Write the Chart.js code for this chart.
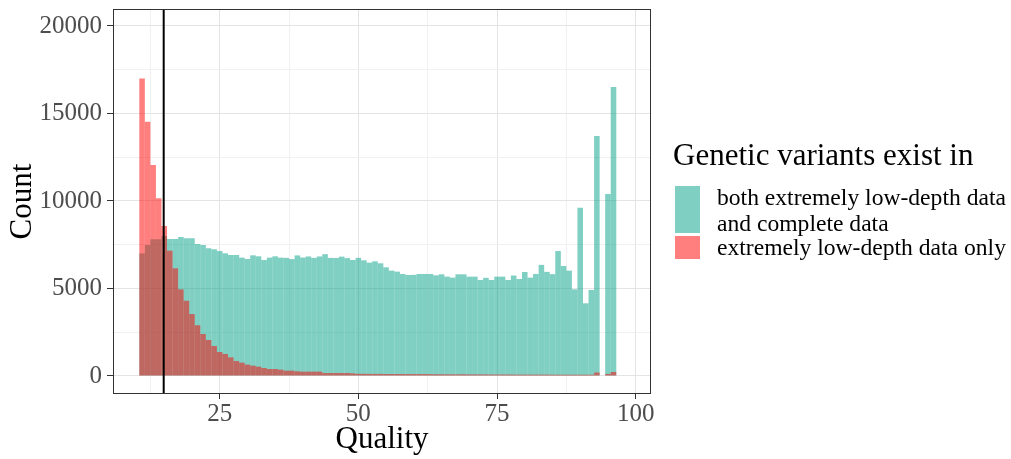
<!DOCTYPE html>
<html>
<head>
<meta charset="utf-8">
<script src="https://cdn.jsdelivr.net/npm/chart.js@4.4.1/dist/chart.umd.min.js"></script>
<style>
  body { margin: 0; background: #fff; }
  #wrap { position: relative; width: 1011px; height: 459px; font-family: "Liberation Serif", "Times New Roman", serif; color: #000; }
  #chart { position: absolute; left: 0; top: 0; }
  .leg-title { position: absolute; left: 673px; top: 137px; font-size: 31px; line-height: 36px; white-space: nowrap; }
  .leg-key { position: absolute; left: 675px; width: 25px; }
  .leg-label { position: absolute; left: 717px; font-size: 23.6px; line-height: 26px; white-space: nowrap; }
</style>
</head>
<body>
<div id="wrap">
  <canvas id="chart" width="1011" height="459"></canvas>
  <div class="leg-title">Genetic variants exist in</div>
  <div class="leg-key" id="key-both" style="top:186px;height:47px;"></div>
  <div class="leg-label" style="top:184px;">both extremely low-depth data<br>and complete data</div>
  <div class="leg-key" id="key-low" style="top:236px;height:23px;"></div>
  <div class="leg-label" style="top:234px;">extremely low-depth data only</div>
</div>
<script>
// Histogram bins (quality score, width 1)
const qualities = [
  11, 12, 13, 14, 15, 16, 17, 18, 19, 20,
  21, 22, 23, 24, 25, 26, 27, 28, 29, 30,
  31, 32, 33, 34, 35, 36, 37, 38, 39, 40,
  41, 42, 43, 44, 45, 46, 47, 48, 49, 50,
  51, 52, 53, 54, 55, 56, 57, 58, 59, 60,
  61, 62, 63, 64, 65, 66, 67, 68, 69, 70,
  71, 72, 73, 74, 75, 76, 77, 78, 79, 80,
  81, 82, 83, 84, 85, 86, 87, 88, 89, 90,
  91, 92, 93, 94, 95, 96
];

// variants found in both extremely low-depth and complete data
const bothCounts = [
  7010, 7490, 7810, 7810, 8000, 7830, 7830, 7940, 7870, 7870,
  7540, 7490, 7300, 7240, 7140, 7010, 6915, 6915, 6763, 6687,
  6896, 6839, 6630, 6763, 6839, 6763, 6750, 6680, 6890, 6770,
  6830, 6750, 6830, 6960, 6750, 6745, 6820, 6735, 6630, 6750,
  6610, 6477, 6553, 6439, 6210, 6020, 5963, 5830, 5772, 5780,
  5830, 5830, 5830, 5753, 5810, 5677, 5620, 5810, 5810, 5677,
  5677, 5486, 5610, 5486, 5677, 5677, 5486, 5740, 5543, 5944,
  5620, 5830, 6350, 5950, 5820, 7144, 6287, 6020, 4953, 9620,
  4153, 4915, 13716, 0, 10401, 16516
];

// variants found in extremely low-depth data only
const lowOnlyCounts = [
  17000, 14535, 12060, 10150, 8570, 7160, 6150, 4950, 4300, 3540,
  2900, 2400, 2060, 1715, 1370, 1257, 1067, 857, 762, 648,
  590, 533, 457, 400, 400, 362, 305, 305, 267, 248,
  248, 248, 248, 171, 171, 171, 171, 171, 150, 125,
  125, 120, 120, 120, 115, 115, 115, 115, 110, 110,
  110, 110, 105, 100, 100, 95, 95, 95, 100, 90,
  90, 90, 90, 85, 85, 85, 85, 80, 80, 80,
  80, 80, 80, 80, 75, 75, 75, 75, 75, 75,
  75, 75, 200, 0, 120, 230
];

const xTicks = [12.5, 25, 37.5, 50, 62.5, 75, 87.5, 100];
const xMajor = [25, 50, 75, 100];
const yTicks = [0, 2500, 5000, 7500, 10000, 12500, 15000, 17500, 20000];
const yMajor = [0, 5000, 10000, 15000, 20000];
const cutoffQuality = 14.9;

const tealFill = 'rgba(0, 160, 135, 0.5)';
const redFill = 'rgba(255, 0, 0, 0.5)';
document.getElementById('key-both').style.background = tealFill;
document.getElementById('key-low').style.background = redFill;

const serif = '"Liberation Serif", "Times New Roman", serif';

// panel border + cutoff line on top of the bars
const panelPlugin = {
  id: 'panel',
  afterDatasetsDraw(chart) {
    const { ctx, chartArea: a, scales: { x } } = chart;
    const px = x.getPixelForValue(cutoffQuality);
    ctx.save();
    ctx.strokeStyle = '#000';
    ctx.lineWidth = 2;
    ctx.beginPath();
    ctx.moveTo(px, a.top);
    ctx.lineTo(px, a.bottom);
    ctx.stroke();
    ctx.strokeStyle = '#333';
    ctx.lineWidth = 1;
    ctx.strokeRect(a.left + 0.5, a.top + 0.5, a.width - 1, a.height - 1);
    ctx.restore();
  }
};

function gridColor(major) {
  return c => major.includes(c.tick.value) ? '#e4e4e4' : '#f1f1f1';
}
function tickColor(major) {
  return c => major.includes(c.tick.value) ? '#333' : 'rgba(0,0,0,0)';
}

new Chart(document.getElementById('chart'), {
  type: 'bar',
  data: {
    datasets: [
      {
        label: 'both extremely low-depth data and complete data',
        data: qualities.map((q, i) => ({ x: q, y: bothCounts[i] })),
        backgroundColor: tealFill,
        order: 1
      },
      {
        label: 'extremely low-depth data only',
        data: qualities.map((q, i) => ({ x: q, y: lowOnlyCounts[i] })),
        backgroundColor: redFill,
        order: 0
      }
    ]
  },
  options: {
    responsive: false,
    devicePixelRatio: 1,
    animation: false,
    grouped: false,
    barPercentage: 1,
    categoryPercentage: 1,
    inflateAmount: 0,
    borderWidth: 0,
    layout: { padding: { top: 9, right: 360, left: 0, bottom: 0 } },
    plugins: {
      legend: { display: false },
      tooltip: { enabled: false }
    },
    scales: {
      x: {
        type: 'linear',
        min: 5.76,
        max: 102.76,
        offset: false,
        afterBuildTicks: axis => { axis.ticks = xTicks.map(v => ({ value: v })); },
        afterFit: axis => {
          axis.height = 65;
          axis.paddingLeft = 0;
          axis.paddingRight = 0;
        },
        ticks: {
          autoSkip: false,
          maxRotation: 0,
          padding: 0,
          color: '#4d4d4d',
          font: { family: serif, size: 25 },
          callback: v => xMajor.includes(v) ? String(v) : ''
        },
        grid: {
          offset: false,
          color: gridColor(xMajor),
          tickColor: tickColor(xMajor),
          tickLength: 5
        },
        border: { display: false },
        title: {
          display: true,
          text: 'Quality',
          color: '#000',
          font: { family: serif, size: 31 },
          padding: { top: 0, bottom: 1 }
        }
      },
      y: {
        min: -1029,
        max: 20971,
        afterBuildTicks: axis => { axis.ticks = yTicks.map(v => ({ value: v })); },
        afterFit: axis => {
          axis.width = 113;
          axis.paddingTop = 0;
          axis.paddingBottom = 0;
        },
        ticks: {
          padding: 5,
          color: '#4d4d4d',
          font: { family: serif, size: 25 },
          callback: v => yMajor.includes(v) ? String(v) : ''
        },
        grid: {
          color: gridColor(yMajor),
          tickColor: tickColor(yMajor),
          tickLength: 6
        },
        border: { display: false },
        title: {
          display: true,
          text: 'Count',
          color: '#000',
          font: { family: serif, size: 31 },
          padding: { top: 4, bottom: 0 }
        }
      }
    }
  },
  plugins: [panelPlugin]
});
</script>
</body>
</html>
